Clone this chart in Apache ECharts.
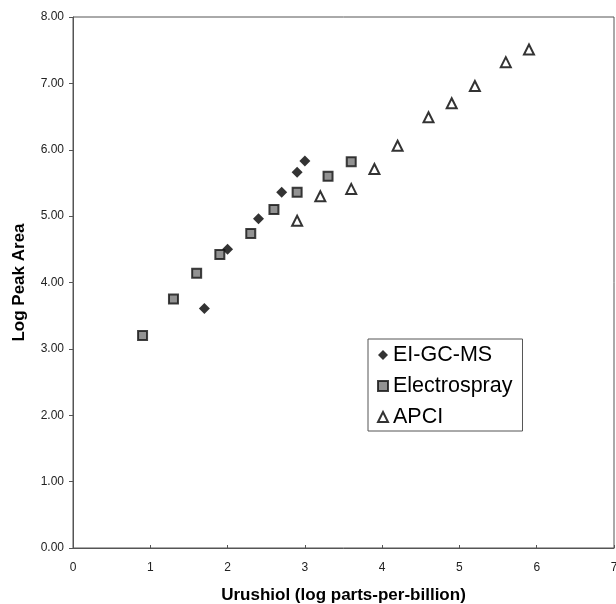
<!DOCTYPE html>
<html>
<head>
<meta charset="utf-8">
<script src="https://cdn.jsdelivr.net/npm/echarts@6/dist/echarts.min.js"></script>
<style>
html,body{margin:0;padding:0;background:#fff;}
#chart{width:616px;height:604px;}
</style>
</head>
<body>
<div id="chart"></div>
<script>
const eiX = [1.7, 2.0, 2.4, 2.7, 2.9, 3.0];
const eiY = [3.61, 4.50, 4.96, 5.36, 5.66, 5.83];
const esX = [0.9, 1.3, 1.6, 1.9, 2.3, 2.6, 2.9, 3.3, 3.6];
const esY = [3.20, 3.75, 4.14, 4.42, 4.74, 5.10, 5.36, 5.60, 5.82];
const apX = [2.9, 3.2, 3.6, 3.9, 4.2, 4.6, 4.9, 5.2, 5.6, 5.9];
const apY = [4.93, 5.30, 5.41, 5.71, 6.06, 6.49, 6.70, 6.96, 7.32, 7.51];
const seriesNames = ['EI-GC-MS', 'Electrospray', 'APCI'];
const xTitle = 'Urushiol (log parts-per-billion)';
const yTitle = 'Log Peak Area';

const zip = (xs, ys) => xs.map((x, i) => [x, ys[i]]);
const font = 'Liberation Sans, Arial, sans-serif';

const chart = echarts.init(document.getElementById('chart'));
chart.setOption({
  animation: false,
  backgroundColor: '#fff',
  grid: { left: 73, right: 2, top: 17, bottom: 56, show: true, borderColor: '#555', borderWidth: 1,
          containLabel: false, outerBoundsMode: 'none' },
  legend: {
    orient: 'vertical', left: 368, top: 339,
    padding: [5, 10, 3, 9],
    borderColor: '#555', borderWidth: 1, backgroundColor: '#fff',
    itemGap: 9, itemWidth: 10, itemHeight: 10,
    textStyle: { fontFamily: font, fontSize: 21.5, color: '#000' },
    data: seriesNames
  },
  xAxis: {
    type: 'value', min: 0, max: 7, interval: 1,
    name: xTitle, nameLocation: 'middle', nameGap: 39,
    nameTextStyle: { fontFamily: font, fontSize: 17, fontWeight: 'bold', color: '#000' },
    axisLine: { show: true, onZero: false, lineStyle: { color: '#555' } },
    axisTick: { show: true, inside: true, length: 3, lineStyle: { color: '#555' } },
    axisLabel: { fontFamily: font, fontSize: 12, color: '#222', margin: 14 },
    splitLine: { show: false }
  },
  yAxis: {
    type: 'value', min: 0, max: 8, interval: 1,
    name: yTitle, nameLocation: 'middle', nameGap: 45,
    nameTextStyle: { fontFamily: font, fontSize: 17, fontWeight: 'bold', color: '#000' },
    axisLine: { show: true, lineStyle: { color: '#555' } },
    axisTick: { show: true, length: 4, lineStyle: { color: '#555' } },
    axisLabel: { fontFamily: font, fontSize: 12, color: '#222', margin: 9, formatter: v => v.toFixed(2) },
    splitLine: { show: false }
  },
  series: [
    { name: seriesNames[0], type: 'scatter', data: zip(eiX, eiY), symbol: 'diamond', symbolSize: 11,
      itemStyle: { color: '#000' } },
    { name: seriesNames[1], type: 'scatter', data: zip(esX, esY), symbol: 'rect', symbolSize: 9,
      itemStyle: { color: '#777', borderColor: '#111', borderWidth: 2 } },
    { name: seriesNames[2], type: 'scatter', data: zip(apX, apY), symbol: 'triangle', symbolSize: 10,
      itemStyle: { color: '#fff', borderColor: '#000', borderWidth: 2 } }
  ]
});
</script>
</body>
</html>
